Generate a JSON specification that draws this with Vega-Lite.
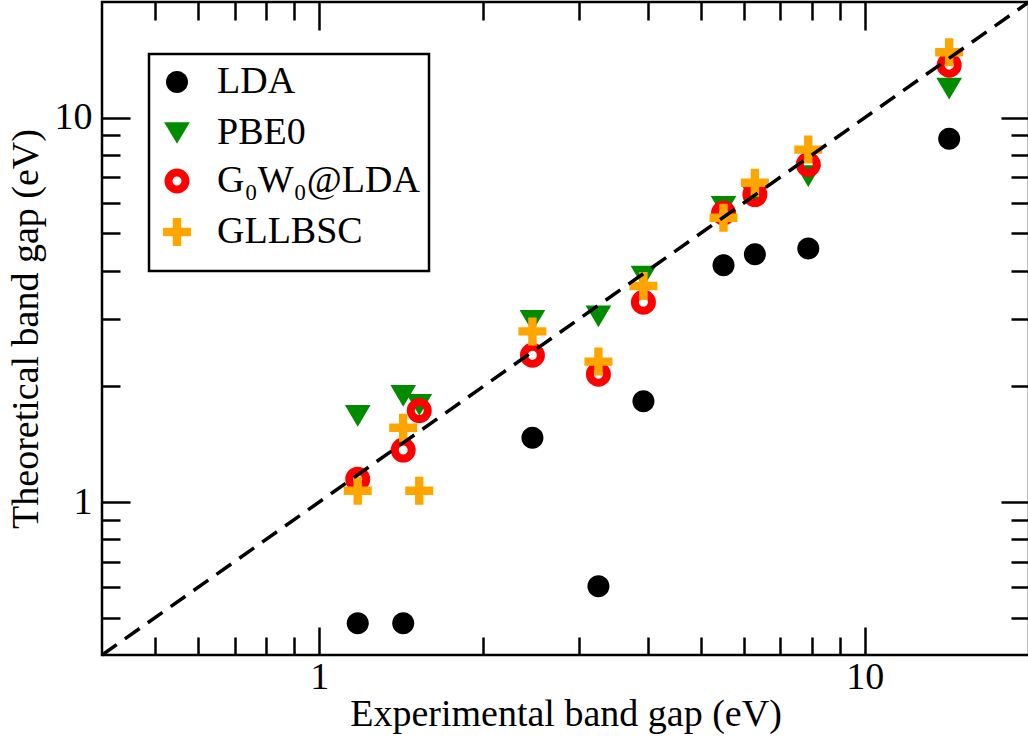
{
  "$schema": "https://vega.github.io/schema/vega-lite/v6.json",
  "autosize": {"type": "none"},
  "padding": {"left": 102, "top": 2, "right": 0, "bottom": 83},
  "width": 927,
  "height": 653,
  "background": "white",
  "config": {
    "view": {"stroke": "black", "strokeWidth": 2.5},
    "font": "Liberation Serif"
  },
  "datasets": {
    "gaps": [
      {"exp": 1.177, "theory": 0.484, "method": "LDA"},
      {"exp": 1.426, "theory": 0.484, "method": "LDA"},
      {"exp": 2.46, "theory": 1.47, "method": "LDA"},
      {"exp": 3.25, "theory": 0.604, "method": "LDA"},
      {"exp": 3.93, "theory": 1.83, "method": "LDA"},
      {"exp": 5.51, "theory": 4.13, "method": "LDA"},
      {"exp": 6.29, "theory": 4.41, "method": "LDA"},
      {"exp": 7.88, "theory": 4.57, "method": "LDA"},
      {"exp": 14.28, "theory": 8.81, "method": "LDA"},
      {"exp": 1.177, "theory": 1.675, "method": "PBE0"},
      {"exp": 1.426, "theory": 1.89, "method": "PBE0"},
      {"exp": 1.526, "theory": 1.79, "method": "PBE0"},
      {"exp": 2.46, "theory": 2.96, "method": "PBE0"},
      {"exp": 3.25, "theory": 3.04, "method": "PBE0"},
      {"exp": 3.93, "theory": 3.86, "method": "PBE0"},
      {"exp": 5.51, "theory": 5.86, "method": "PBE0"},
      {"exp": 6.29, "theory": 6.22, "method": "PBE0"},
      {"exp": 7.88, "theory": 7.05, "method": "PBE0"},
      {"exp": 14.28, "theory": 11.9, "method": "PBE0"},
      {"exp": 1.177, "theory": 1.147, "method": "G₀W₀@LDA"},
      {"exp": 1.426, "theory": 1.365, "method": "G₀W₀@LDA"},
      {"exp": 1.526, "theory": 1.73, "method": "G₀W₀@LDA"},
      {"exp": 2.46, "theory": 2.41, "method": "G₀W₀@LDA"},
      {"exp": 3.25, "theory": 2.15, "method": "G₀W₀@LDA"},
      {"exp": 3.93, "theory": 3.31, "method": "G₀W₀@LDA"},
      {"exp": 5.51, "theory": 5.65, "method": "G₀W₀@LDA"},
      {"exp": 6.29, "theory": 6.31, "method": "G₀W₀@LDA"},
      {"exp": 7.88, "theory": 7.55, "method": "G₀W₀@LDA"},
      {"exp": 14.28, "theory": 13.7, "method": "G₀W₀@LDA"},
      {"exp": 1.177, "theory": 1.07, "method": "GLLBSC"},
      {"exp": 1.426, "theory": 1.56, "method": "GLLBSC"},
      {"exp": 1.526, "theory": 1.07, "method": "GLLBSC"},
      {"exp": 2.46, "theory": 2.78, "method": "GLLBSC"},
      {"exp": 3.25, "theory": 2.32, "method": "GLLBSC"},
      {"exp": 3.93, "theory": 3.65, "method": "GLLBSC"},
      {"exp": 5.51, "theory": 5.49, "method": "GLLBSC"},
      {"exp": 6.29, "theory": 6.77, "method": "GLLBSC"},
      {"exp": 7.88, "theory": 8.26, "method": "GLLBSC"},
      {"exp": 14.28, "theory": 14.8, "method": "GLLBSC"}
    ],
    "diag": [
      {"exp": 0.4, "theory": 0.4},
      {"exp": 20, "theory": 20}
    ]
  },
  "layer": [
    {
      "data": {"name": "gaps"},
      "mark": {"type": "point", "filled": true, "opacity": 1, "size": 784, "strokeWidth": 8},
      "encoding": {
        "x": {
          "field": "exp", "type": "quantitative",
          "scale": {"type": "log", "domain": [0.4, 20], "nice": false, "zero": false},
          "axis": {
            "orient": "bottom",
            "values": [0.5, 0.6, 0.7, 0.8, 0.9, 1, 2, 3, 4, 5, 6, 7, 8, 9, 10],
            "tickSize": {"condition": {"test": "datum.value === 1 || datum.value === 10", "value": -28}, "value": -18},
            "tickColor": "black", "tickWidth": 2.5,
            "labelExpr": "datum.value === 1 ? '1' : datum.value === 10 ? '10' : ''",
            "labelPadding": 31,
            "labelFlush": false, "labelOverlap": false,
            "domain": false, "grid": false,
            "labelFont": "Liberation Serif", "labelFontSize": 38, "labelColor": "black",
            "title": "Experimental band gap (eV)",
            "titleFont": "Liberation Serif", "titleFontSize": 38, "titleFontWeight": "normal", "titleColor": "black",
            "titlePadding": -11
          }
        },
        "y": {
          "field": "theory", "type": "quantitative",
          "scale": {"type": "log", "domain": [0.4, 20], "nice": false, "zero": false},
          "axis": {
            "orient": "left",
            "values": [0.5, 0.6, 0.7, 0.8, 0.9, 1, 2, 3, 4, 5, 6, 7, 8, 9, 10],
            "tickSize": {"condition": {"test": "datum.value === 1 || datum.value === 10", "value": -28}, "value": -18},
            "tickColor": "black", "tickWidth": 2.5,
            "labelExpr": "datum.value === 1 ? '1' : datum.value === 10 ? '10' : ''",
            "labelPadding": 38,
            "labelFlush": false, "labelOverlap": false,
            "domain": false, "grid": false,
            "labelFont": "Liberation Serif", "labelFontSize": 38, "labelColor": "black",
            "title": "Theoretical band gap (eV)",
            "titleFont": "Liberation Serif", "titleFontSize": 38, "titleFontWeight": "normal", "titleColor": "black",
            "titlePadding": 9
          }
        },
        "shape": {
          "field": "method", "type": "nominal",
          "scale": {
            "domain": ["LDA", "PBE0", "G₀W₀@LDA", "GLLBSC"],
            "range": [
              "M0.786,0A0.786,0.786,0,1,1,-0.786,0A0.786,0.786,0,1,1,0.786,0Z",
              "M-0.918,-0.775L0.918,-0.775L0,0.775Z",
              "M0.607,0A0.607,0.607,0,1,1,-0.607,0A0.607,0.607,0,1,1,0.607,0Z",
              "M-1,-0.3H-0.3V-1H0.3V-0.3H1V0.3H0.3V1H-0.3V0.3H-1Z"
            ]
          }
        },
        "fill": {
          "field": "method", "type": "nominal",
          "scale": {
            "domain": ["LDA", "PBE0", "G₀W₀@LDA", "GLLBSC"],
            "range": ["#000000", "#008b00", "transparent", "#ffa500"]
          },
          "legend": {
            "title": null,
            "orient": "none",
            "legendX": 47,
            "legendY": 52,
            "padding": 9,
            "rowPadding": -4,
            "symbolSize": 784,
            "symbolStrokeWidth": 8,
            "symbolOpacity": 1,
            "labelFont": "Liberation Serif",
            "labelFontSize": 38,
            "labelColor": "black",
            "labelOffset": 21,
            "labelLimit": 400,
            "strokeColor": "black",
            "fillColor": "white",
            "encode": {"legend": {"update": {"strokeWidth": {"value": 2.5}}}}
          }
        },
        "stroke": {
          "field": "method", "type": "nominal",
          "scale": {
            "domain": ["LDA", "PBE0", "G₀W₀@LDA", "GLLBSC"],
            "range": ["transparent", "transparent", "#ff0000", "transparent"]
          }
        }
      }
    },
    {
      "data": {"name": "diag"},
      "mark": {"type": "line", "color": "black", "strokeWidth": 3.5, "strokeDash": [18, 10], "strokeCap": "butt"},
      "encoding": {
        "x": {
          "field": "exp", "type": "quantitative",
          "scale": {"type": "log", "domain": [0.4, 20], "nice": false, "zero": false},
          "axis": {
            "orient": "top",
            "values": [0.5, 0.6, 0.7, 0.8, 0.9, 1, 2, 3, 4, 5, 6, 7, 8, 9, 10],
            "tickSize": {"condition": {"test": "datum.value === 1 || datum.value === 10", "value": -28}, "value": -18},
            "tickColor": "black", "tickWidth": 2.5,
            "labels": false, "domain": false, "grid": false, "title": null
          }
        },
        "y": {
          "field": "theory", "type": "quantitative",
          "scale": {"type": "log", "domain": [0.4, 20], "nice": false, "zero": false},
          "axis": {
            "orient": "right",
            "values": [0.5, 0.6, 0.7, 0.8, 0.9, 1, 2, 3, 4, 5, 6, 7, 8, 9, 10],
            "tickSize": {"condition": {"test": "datum.value === 1 || datum.value === 10", "value": -28}, "value": -18},
            "tickColor": "black", "tickWidth": 2.5,
            "labels": false, "domain": false, "grid": false, "title": null
          }
        }
      }
    }
  ],
  "resolve": {"axis": {"x": "independent", "y": "independent"}}
}
